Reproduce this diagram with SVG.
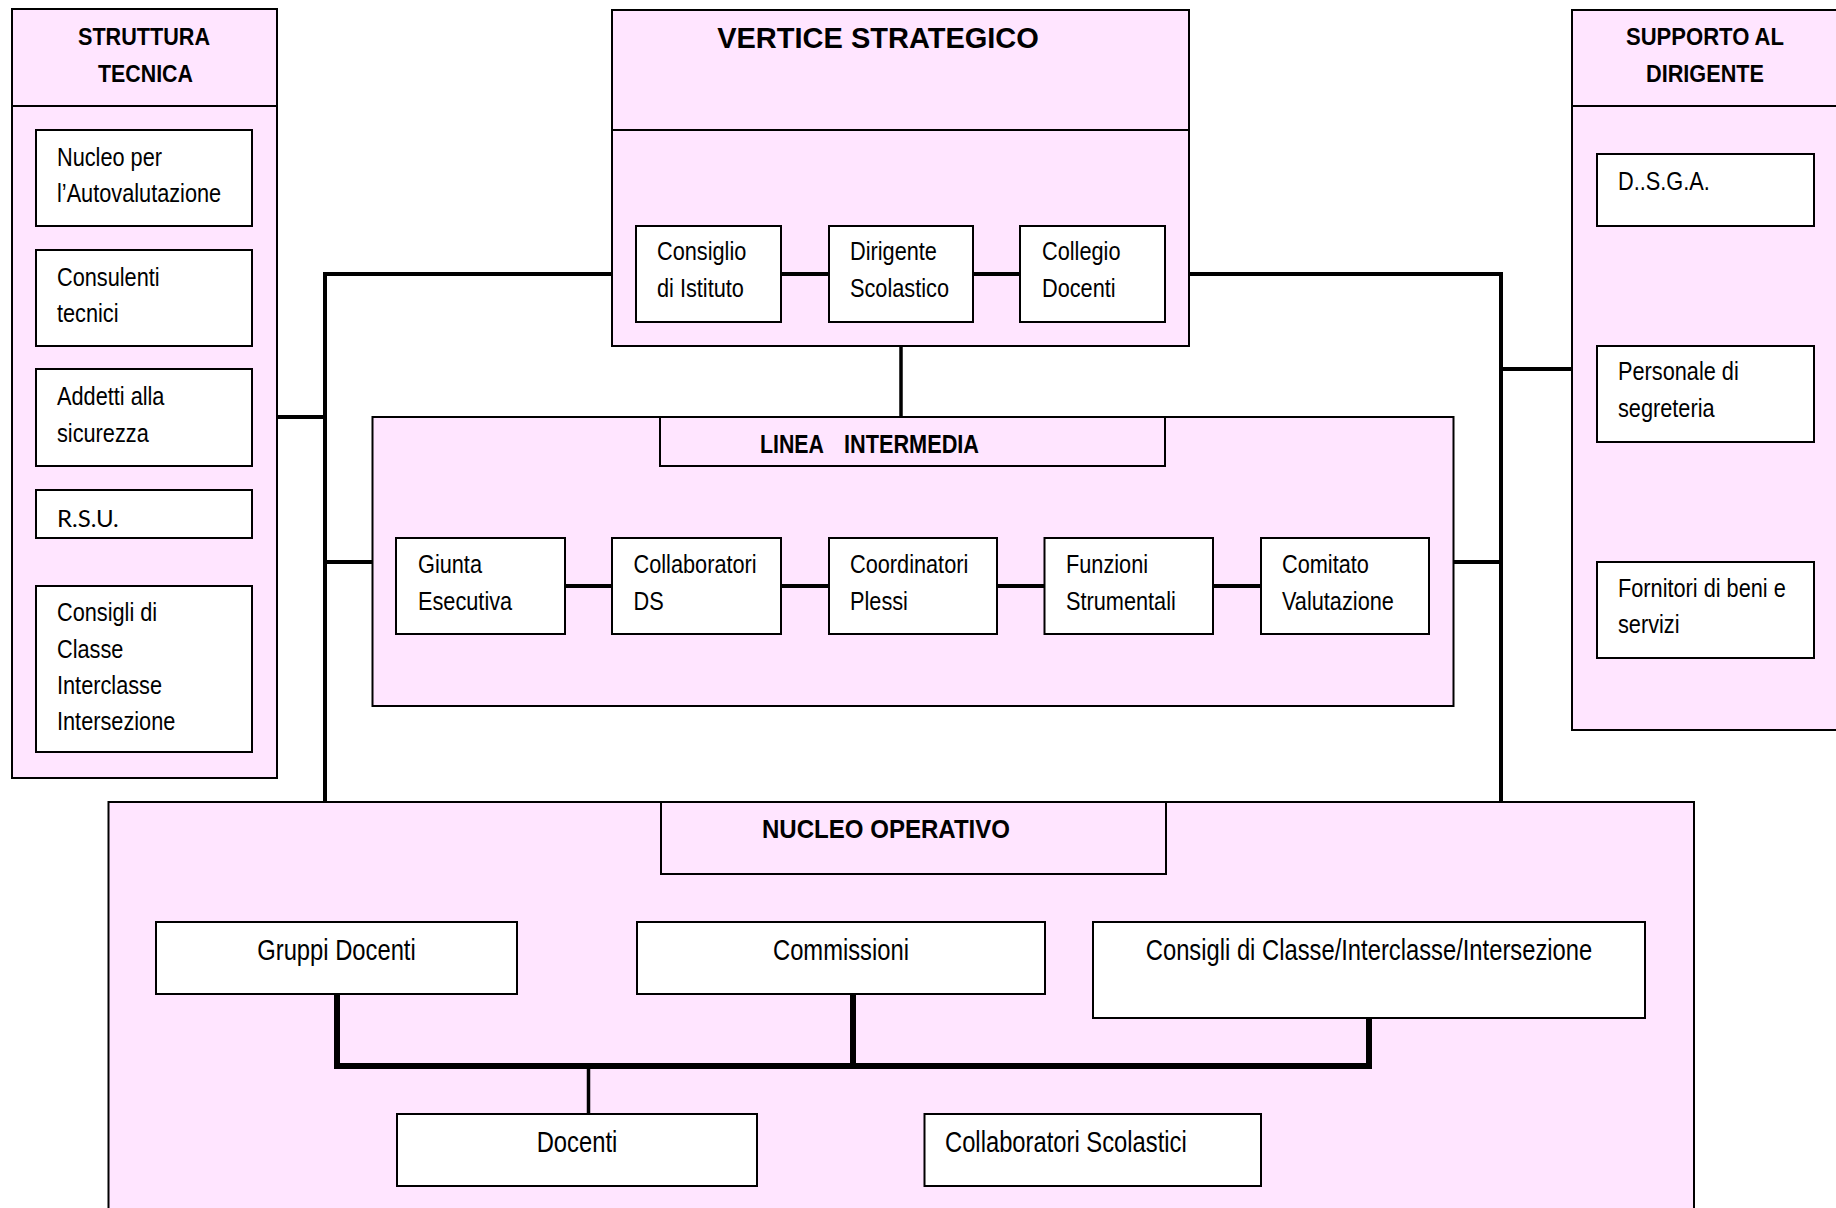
<svg xmlns="http://www.w3.org/2000/svg" width="1836" height="1208" viewBox="0 0 1836 1208">
  <style>
    .panel { fill: #FFE5FF; stroke: #000; stroke-width: 2; }
    .box { fill: #FFFFFF; stroke: #000; stroke-width: 2; }
    /* narrow sans: regular face condensed horizontally */
    .t, .tl { font-family: "Liberation Sans Narrow", "Liberation Sans", Arial, sans-serif; fill: #000;
              transform-box: fill-box; transform-origin: 0 0; transform: scaleX(0.82); }
    .t { font-size: 26.5px; }
    .tl { font-size: 29px; }
    .tl.c { transform-origin: 50% 50%; }
    .tb { font-family: "Liberation Sans", Arial, sans-serif; font-size: 23.5px; font-weight: bold; fill: #000; }
    .vs { font-family: "Liberation Sans", Arial, sans-serif; font-size: 29px; font-weight: bold; fill: #000; }
    .rsu { font-family: Lato, "Open Sans", sans-serif; font-size: 24px; fill: #000; }
    .c { text-anchor: middle; }
    .ln { stroke: #000; stroke-width: 4; fill: none; }
    .lnk { stroke: #000; stroke-width: 3.5; fill: none; }
    .bus { stroke: #000; stroke-width: 6; fill: none; }
  </style>

  <!-- outer containers -->
  <g id="struttura-tecnica">
    <rect class="panel" x="12" y="9" width="265" height="769"/>
    <line x1="12" y1="106" x2="277" y2="106" stroke="#000" stroke-width="2"/>
    <text class="tb c" x="144" y="44.5" textLength="132" lengthAdjust="spacingAndGlyphs">STRUTTURA</text>
    <text class="tb c" x="145.5" y="81.5" textLength="95" lengthAdjust="spacingAndGlyphs">TECNICA</text>
  </g>

  <g id="vertice-strategico">
    <rect class="panel" x="612" y="10" width="577" height="336"/>
    <line x1="612" y1="130" x2="1189" y2="130" stroke="#000" stroke-width="2"/>
    <text class="vs c" x="878" y="48">VERTICE STRATEGICO</text>
  </g>

  <g id="supporto-dirigente">
    <rect class="panel" x="1572" y="10" width="270" height="720"/>
    <line x1="1572" y1="106" x2="1842" y2="106" stroke="#000" stroke-width="2"/>
    <text class="tb c" x="1705" y="44.5" textLength="158" lengthAdjust="spacingAndGlyphs">SUPPORTO AL</text>
    <text class="tb c" x="1705" y="81.5" textLength="118" lengthAdjust="spacingAndGlyphs">DIRIGENTE</text>
  </g>

  <g id="linea-intermedia">
    <rect class="panel" x="372.5" y="417" width="1081" height="289"/>
    <rect class="panel" x="660" y="417" width="505" height="49"/>
    <text class="tb" x="760" y="453" style="font-size:25px" textLength="64" lengthAdjust="spacingAndGlyphs">LINEA</text>
    <text class="tb" x="844" y="453" style="font-size:25px" textLength="135" lengthAdjust="spacingAndGlyphs">INTERMEDIA</text>
  </g>

  <g id="nucleo-operativo">
    <rect class="panel" x="108.5" y="802" width="1585.5" height="420"/>
    <rect class="panel" x="661" y="802" width="505" height="72"/>
    <text class="tb" x="762" y="838" style="font-size:25px" textLength="248" lengthAdjust="spacingAndGlyphs">NUCLEO OPERATIVO</text>
  </g>

  <!-- connectors -->
  <g id="connectors">
    <!-- left trunk: vertice, struttura tecnica, linea intermedia, nucleo operativo -->
    <polyline class="ln" points="612,274 325,274 325,802"/>
    <line class="ln" x1="277" y1="417" x2="325" y2="417"/>
    <line class="ln" x1="325" y1="562" x2="372.5" y2="562"/>
    <!-- right trunk: vertice, supporto, linea intermedia, nucleo operativo -->
    <polyline class="ln" points="1189,274 1501,274 1501,802"/>
    <line class="ln" x1="1501" y1="369" x2="1572" y2="369"/>
    <line class="ln" x1="1453.5" y1="562" x2="1501" y2="562"/>
    <!-- vertice to linea intermedia -->
    <line class="lnk" x1="901" y1="346" x2="901" y2="417"/>
    <!-- chain inside vertice -->
    <line class="ln" x1="781" y1="274" x2="829" y2="274"/>
    <line class="ln" x1="973" y1="274" x2="1020" y2="274"/>
    <!-- chain inside linea intermedia -->
    <line class="ln" x1="565" y1="586" x2="612" y2="586"/>
    <line class="ln" x1="781" y1="586" x2="829" y2="586"/>
    <line class="ln" x1="997" y1="586" x2="1044.5" y2="586"/>
    <line class="ln" x1="1213" y1="586" x2="1261" y2="586"/>
    <!-- nucleo operativo bus -->
    <polyline class="bus" points="337,994 337,1066 1369,1066 1369,1018"/>
    <line class="bus" x1="853" y1="994" x2="853" y2="1066"/>
    <line class="lnk" x1="588.5" y1="1066" x2="588.5" y2="1114"/>
  </g>

  <!-- struttura tecnica members -->
  <g id="nucleo-autovalutazione">
    <rect class="box" x="36" y="130" width="216" height="96"/>
    <text class="t" x="57" y="166">Nucleo per</text>
    <text class="t" x="57" y="202">l’Autovalutazione</text>
  </g>
  <g id="consulenti-tecnici">
    <rect class="box" x="36" y="250" width="216" height="96"/>
    <text class="t" x="57" y="286">Consulenti</text>
    <text class="t" x="57" y="322">tecnici</text>
  </g>
  <g id="addetti-sicurezza">
    <rect class="box" x="36" y="369" width="216" height="97"/>
    <text class="t" x="57" y="405">Addetti alla</text>
    <text class="t" x="57" y="442">sicurezza</text>
  </g>
  <g id="rsu">
    <rect class="box" x="36" y="490" width="216" height="48"/>
    <text class="rsu" x="57" y="527">R.S.U.</text>
  </g>
  <g id="consigli-classe-st">
    <rect class="box" x="36" y="586" width="216" height="166"/>
    <text class="t" x="57" y="621">Consigli di</text>
    <text class="t" x="57" y="658">Classe</text>
    <text class="t" x="57" y="694">Interclasse</text>
    <text class="t" x="57" y="730">Intersezione</text>
  </g>

  <!-- vertice strategico members -->
  <g id="consiglio-istituto">
    <rect class="box" x="636" y="226" width="145" height="96"/>
    <text class="t" x="657" y="260">Consiglio</text>
    <text class="t" x="657" y="297">di Istituto</text>
  </g>
  <g id="dirigente-scolastico">
    <rect class="box" x="829" y="226" width="144" height="96"/>
    <text class="t" x="850" y="260">Dirigente</text>
    <text class="t" x="850" y="297">Scolastico</text>
  </g>
  <g id="collegio-docenti">
    <rect class="box" x="1020" y="226" width="145" height="96"/>
    <text class="t" x="1042" y="260">Collegio</text>
    <text class="t" x="1042" y="297">Docenti</text>
  </g>

  <!-- supporto al dirigente members -->
  <g id="dsga">
    <rect class="box" x="1597" y="154" width="217" height="72"/>
    <text class="t" x="1618" y="190">D..S.G.A.</text>
  </g>
  <g id="personale-segreteria">
    <rect class="box" x="1597" y="346" width="217" height="96"/>
    <text class="t" x="1618" y="380">Personale di</text>
    <text class="t" x="1618" y="417">segreteria</text>
  </g>
  <g id="fornitori">
    <rect class="box" x="1597" y="562" width="217" height="96"/>
    <text class="t" x="1618" y="597">Fornitori di beni e</text>
    <text class="t" x="1618" y="633">servizi</text>
  </g>

  <!-- linea intermedia members -->
  <g id="giunta-esecutiva">
    <rect class="box" x="396" y="538" width="169" height="96"/>
    <text class="t" x="418" y="573">Giunta</text>
    <text class="t" x="418" y="610">Esecutiva</text>
  </g>
  <g id="collaboratori-ds">
    <rect class="box" x="612" y="538" width="169" height="96"/>
    <text class="t" x="633.5" y="573">Collaboratori</text>
    <text class="t" x="633.5" y="610">DS</text>
  </g>
  <g id="coordinatori-plessi">
    <rect class="box" x="829" y="538" width="168" height="96"/>
    <text class="t" x="850" y="573">Coordinatori</text>
    <text class="t" x="850" y="610">Plessi</text>
  </g>
  <g id="funzioni-strumentali">
    <rect class="box" x="1044.5" y="538" width="168.5" height="96"/>
    <text class="t" x="1066" y="573">Funzioni</text>
    <text class="t" x="1066" y="610">Strumentali</text>
  </g>
  <g id="comitato-valutazione">
    <rect class="box" x="1261" y="538" width="168" height="96"/>
    <text class="t" x="1282" y="573">Comitato</text>
    <text class="t" x="1282" y="610">Valutazione</text>
  </g>

  <!-- nucleo operativo members -->
  <g id="gruppi-docenti">
    <rect class="box" x="156" y="922" width="361" height="72"/>
    <text class="tl c" x="336.5" y="960">Gruppi Docenti</text>
  </g>
  <g id="commissioni">
    <rect class="box" x="637" y="922" width="408" height="72"/>
    <text class="tl c" x="841" y="960">Commissioni</text>
  </g>
  <g id="consigli-classe-no">
    <rect class="box" x="1093" y="922" width="552" height="96"/>
    <text class="tl c" x="1369" y="960">Consigli di Classe/Interclasse/Intersezione</text>
  </g>
  <g id="docenti">
    <rect class="box" x="397" y="1114" width="360" height="72"/>
    <text class="tl c" x="577" y="1152">Docenti</text>
  </g>
  <g id="collaboratori-scolastici">
    <rect class="box" x="924.5" y="1114" width="336.5" height="72"/>
    <text class="tl" x="945" y="1152">Collaboratori Scolastici</text>
  </g>
</svg>
